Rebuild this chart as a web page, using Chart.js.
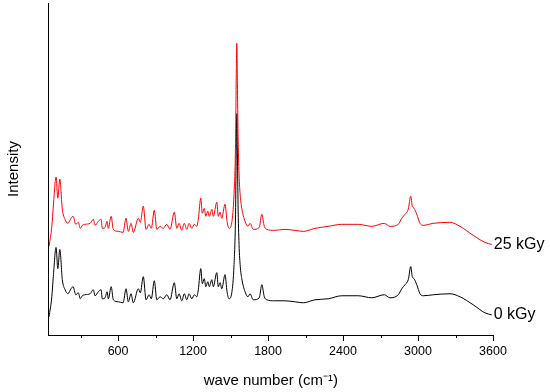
<!DOCTYPE html>
<html>
<head>
<meta charset="utf-8">
<script src="https://cdn.jsdelivr.net/npm/chart.js@4.4.1/dist/chart.umd.min.js"></script>
<style>
  html, body { margin: 0; padding: 0; background: #fff; }
  #wrap { width: 550px; height: 392px; }
</style>
</head>
<body>
<div id="wrap"><canvas id="chart"></canvas></div>
<script>
// Raman spectra (arbitrary intensity units)
const waveNumbers = [
  48, 70, 82, 104, 118, 134, 154, 176, 198, 224,
  240, 262, 282, 298, 314, 336, 376, 402, 416, 442,
  464, 474, 496, 512, 522, 545, 562, 602, 640, 664,
  682, 704, 722, 762, 778, 802, 824, 848, 866, 890,
  910, 936, 962, 990, 1016, 1050, 1070, 1088, 1110, 1130,
  1150, 1168, 1190, 1210, 1230, 1242, 1262, 1274, 1290, 1302,
  1318, 1330, 1350, 1362, 1390, 1402, 1416, 1430, 1456, 1472,
  1488, 1510, 1528, 1540, 1546, 1550, 1555, 1560, 1568, 1578,
  1590, 1616, 1640, 1656, 1682, 1730, 1750, 1770, 1790, 1850,
  1936, 2016, 2082, 2176, 2282, 2390, 2522, 2630, 2730, 2776,
  2842, 2870, 2896, 2922, 2942, 2954, 2968, 2990, 3016, 3042,
  3122, 3256, 3336, 3442, 3536, 3590
];
const intensity0kGy = [
  18, 38, 58, 87, 66, 85, 55, 45, 41, 46,
  48, 40, 42, 36, 39, 40, 41, 45, 39, 43,
  45, 36, 37, 43, 36, 48, 35, 33, 32, 46,
  33, 41, 32, 46, 42, 58, 35, 40, 36, 54,
  35, 38, 36, 40, 35, 52, 36, 41, 34, 41,
  35, 41, 36, 40, 38, 45, 66, 51, 56, 48,
  53, 48, 55, 48, 62, 48, 52, 46, 60, 43,
  36, 42, 70, 120, 190, 220, 180, 130, 90, 68,
  56, 43, 38, 41, 35, 37, 50, 38, 35, 34,
  34, 33, 32, 35, 36, 39, 39, 37, 40, 37,
  40, 46, 50, 55, 68, 58, 56, 50, 41, 39,
  40, 41, 38, 30, 22, 20
];
const intensity25kGy = [
  88, 108, 128, 157, 136, 155, 125, 115, 111, 116,
  118, 110, 112, 106, 109, 110, 111, 115, 109, 113,
  115, 106, 107, 113, 106, 118, 105, 103, 102, 116,
  103, 111, 102, 116, 112, 128, 105, 110, 106, 124,
  105, 108, 106, 110, 105, 122, 106, 111, 104, 111,
  105, 111, 106, 110, 108, 115, 136, 121, 126, 118,
  123, 118, 125, 118, 132, 118, 122, 116, 130, 113,
  106, 112, 140, 190, 260, 290, 250, 200, 160, 138,
  126, 113, 108, 111, 105, 107, 120, 108, 105, 104,
  105, 104, 103, 106, 108, 110, 110, 108, 111, 108,
  110, 116, 120, 125, 138, 128, 126, 120, 111, 109,
  111, 112, 108, 99, 92, 90
];
const seriesNames = ['25 kGy', '0 kGy'];
const seriesColors = ['#ff0000', '#000000'];
const majorTicks = [600, 1200, 1800, 2400, 3000, 3600];
const minorTicks = [300, 900, 1500, 2100, 2700, 3300];

const FONT = "'Liberation Sans', Arial, sans-serif";

const toPoints = ys => waveNumbers.map((w, i) => ({ x: w, y: ys[i] }));

// draws the outward tick marks and the labels at the end of each curve
const extras = {
  id: 'extras',
  afterDraw(chart) {
    const ctx = chart.ctx;
    const xs = chart.scales.x;
    ctx.save();
    ctx.strokeStyle = '#000';
    ctx.lineWidth = 1;
    xs.ticks.forEach(t => {
      const px = Math.round(xs.getPixelForValue(t.value)) + 0.5;
      const len = majorTicks.includes(t.value) ? 6 : 3;
      ctx.beginPath();
      ctx.moveTo(px, xs.top);
      ctx.lineTo(px, xs.top + len);
      ctx.stroke();
    });

    ctx.font = '16px ' + FONT;
    ctx.fillStyle = '#000';
    ctx.textBaseline = 'middle';
    ctx.textAlign = 'left';
    chart.data.datasets.forEach((ds, i) => {
      const pts = chart.getDatasetMeta(i).data;
      const last = pts[pts.length - 1];
      ctx.fillText(ds.label, last.x + 2, last.y);
    });
    ctx.restore();
  }
};

new Chart(document.getElementById('chart'), {
  type: 'line',
  data: {
    datasets: [
      {
        label: seriesNames[0],
        data: toPoints(intensity25kGy),
        borderColor: seriesColors[0],
        order: 0
      },
      {
        label: seriesNames[1],
        data: toPoints(intensity0kGy),
        borderColor: seriesColors[1],
        order: 1
      }
    ]
  },
  options: {
    responsive: true,
    maintainAspectRatio: false,
    animation: false,
    layout: { padding: { left: 0, top: 3, right: 57, bottom: 0 } },
    elements: {
      point: { radius: 0 },
      line: { borderWidth: 1, cubicInterpolationMode: 'monotone' }
    },
    plugins: { legend: { display: false }, tooltip: { enabled: false } },
    scales: {
      x: {
        type: 'linear',
        min: 45,
        max: 3600,
        afterBuildTicks: s => {
          s.ticks = majorTicks.concat(minorTicks).sort((a, b) => a - b).map(v => ({ value: v }));
        },
        grid: { display: true, drawOnChartArea: false, drawTicks: false },
        border: { display: true, color: '#000', width: 1 },
        ticks: {
          padding: 9,
          color: '#000',
          font: { family: FONT, size: 12.5 },
          maxRotation: 0,
          autoSkip: false,
          callback: v => majorTicks.includes(v) ? String(v) : ''
        },
        title: {
          display: true,
          text: 'wave number (cm\u207B\u00B9)',
          color: '#000',
          font: { family: FONT, size: 15 },
          padding: { top: 4, bottom: 2 }
        }
      },
      y: {
        min: 0,
        max: 330,
        grid: { display: true, drawOnChartArea: false, drawTicks: false },
        border: { display: true, color: '#000', width: 1 },
        ticks: { display: false },
        title: {
          display: true,
          text: 'Intensity',
          color: '#000',
          font: { family: FONT, size: 15 },
          padding: { top: 5, bottom: 25.7 }
        }
      }
    }
  },
  plugins: [extras]
});
</script>
</body>
</html>
